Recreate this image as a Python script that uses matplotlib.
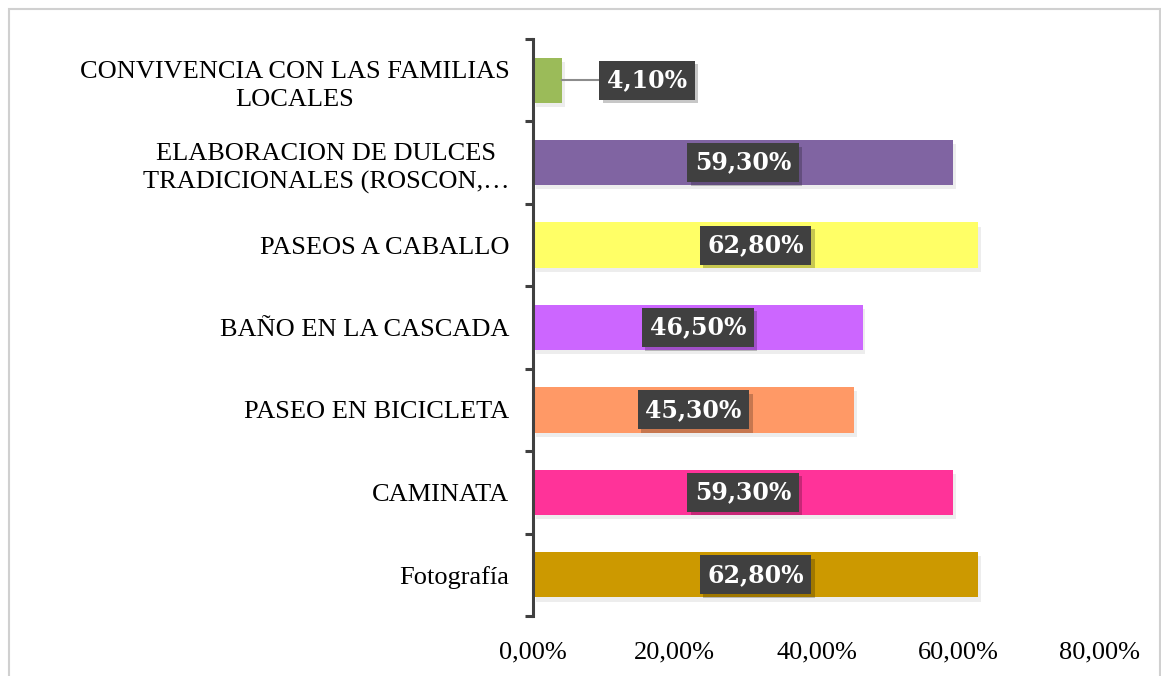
import matplotlib.pyplot as plt
import matplotlib.patheffects as pe
from matplotlib.patches import Rectangle
from matplotlib.ticker import FuncFormatter

# data, bottom to top
categories = [
    "Fotografía",
    "CAMINATA",
    "PASEO EN BICICLETA",
    "BAÑO EN LA CASCADA",
    "PASEOS A CABALLO",
    "ELABORACION DE DULCES\nTRADICIONALES (ROSCON,…",
    "CONVIVENCIA CON LAS FAMILIAS\nLOCALES",
]
values = [0.628, 0.593, 0.453, 0.465, 0.628, 0.593, 0.041]
labels = ["62,80%", "59,30%", "45,30%", "46,50%", "62,80%", "59,30%", "4,10%"]
colors = ["#CC9900", "#FF3399", "#FF9966", "#CC66FF", "#FFFF66", "#8064A2", "#9BBB59"]
x_ticks = [0.0, 0.2, 0.4, 0.6, 0.8]

fig = plt.figure(figsize=(11.61, 6.76), dpi=100)
ax = fig.add_axes([533 / 1161, 1 - 616 / 676, (1100 - 533) / 1161, (616 - 39) / 676])

# outer chart border
fig.patches.append(Rectangle((9 / 1161, -0.01), (1160 - 9) / 1161, 1 - 9 / 676 + 0.01,
                             transform=fig.transFigure, fill=False,
                             edgecolor="#D0D0D0", linewidth=1.5))

ypos = list(range(len(categories)))
bars = ax.barh(ypos, values, height=0.55, color=colors, zorder=2)
for b in bars:
    b.set_path_effects([pe.SimplePatchShadow(offset=(2, -3), shadow_rgbFace="#000000", alpha=0.07),
                        pe.Normal()])

box = dict(boxstyle="square,pad=0.32", facecolor="#404040", edgecolor="none")
for i, (v, lab) in enumerate(zip(values, labels)):
    if v < 0.1:
        xl = 0.161
        ax.plot([v, xl - 0.06], [i, i], color="#8C8C8C", lw=1.5, zorder=2)
    else:
        xl = v / 2
    t = ax.text(xl, i, lab, ha="center", va="center", color="white",
                fontsize=17, fontweight="bold", family="DejaVu Serif", bbox=box, zorder=4)
    t.get_bbox_patch().set_path_effects([
        pe.SimplePatchShadow(offset=(2.5, -2.5), shadow_rgbFace="#000000", alpha=0.22),
        pe.Normal()])

ax.set_xlim(0, 0.8)
ax.set_ylim(-0.5, 6.5)

ax.set_yticks(ypos)
ax.set_yticklabels(categories, fontsize=19, family="Liberation Serif",
                   multialignment="center", linespacing=1.35)
ax.set_yticks([y - 0.5 for y in range(len(categories) + 1)], minor=True)
ax.tick_params(axis="y", which="major", length=0, pad=17)
ax.tick_params(axis="y", which="minor", length=6, width=2.2, color="#404040", direction="out")

ax.set_xticks(x_ticks)
ax.xaxis.set_major_formatter(FuncFormatter(lambda x, p: f"{x * 100:.2f}%".replace(".", ",")))
ax.tick_params(axis="x", length=0, pad=18, labelsize=19)
for tl in ax.get_xticklabels():
    tl.set_family("Liberation Serif")

for s in ["top", "right", "bottom"]:
    ax.spines[s].set_visible(False)
ax.spines["left"].set_color("#404040")
ax.spines["left"].set_linewidth(2.2)
ax.spines["left"].set_zorder(5)

fig.savefig("out.png", dpi=100)
